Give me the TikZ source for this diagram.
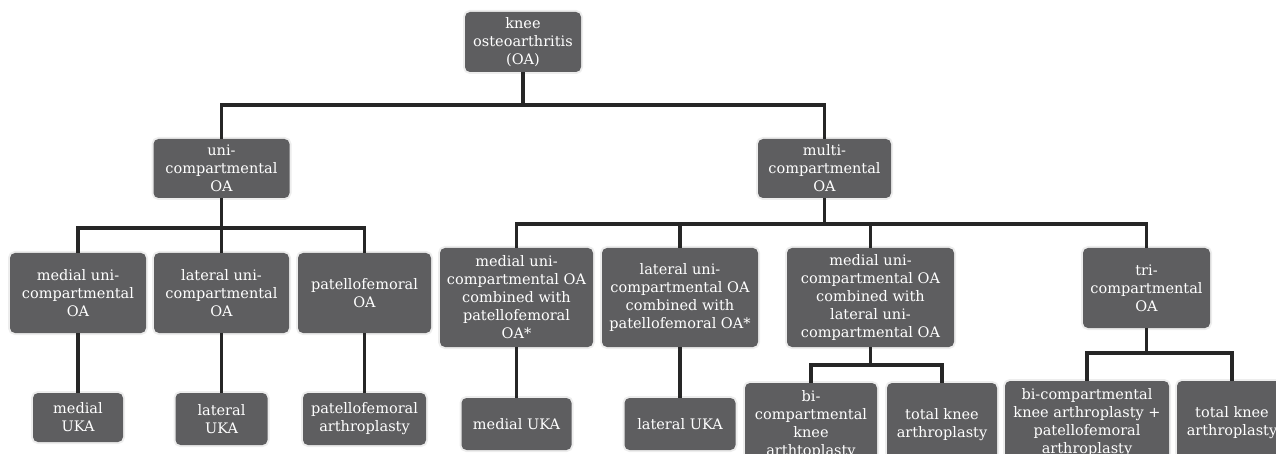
\documentclass[tikz,border=0pt]{standalone}
\usepackage{fontspec}
\setmainfont{DejaVu Serif}
\definecolor{boxgray}{HTML}{5E5E60}
\definecolor{linegray}{HTML}{262626}

\begin{document}
\begin{tikzpicture}[x=1pt, y=-1pt,
	box/.style={rounded corners=5pt, fill=boxgray, text=white, align=center, inner sep=0pt,
		font=\fontsize{14.5}{18}\selectfont, preaction={draw=black!7, line width=4pt}},
	link/.style={draw=linegray, line width=3.5pt}]
	\useasboundingbox (0,0) rectangle (1276,454);

	% top levels
	\node [box, minimum width=116pt, minimum height=60pt] (oa) at (523,42) {knee\\osteoarthritis\\(OA)};
	\node [box, minimum width=136pt, minimum height=59pt] (uni) at (221.5,168.5) {uni-\\compartmental\\OA};
	\node [box, minimum width=133pt, minimum height=59pt] (multi) at (824.5,168.5) {multi-\\compartmental\\OA};

	% uni-compartmental branch
	\node [box, minimum width=136pt, minimum height=80pt] (u1) at (78,293) {medial uni-\\compartmental\\OA};
	\node [box, minimum width=135pt, minimum height=80pt] (u2) at (221.5,293) {lateral uni-\\compartmental\\OA};
	\node [box, minimum width=133pt, minimum height=80pt] (u3) at (364.5,293) {patellofemoral\\OA};
	\node [box, minimum width=90pt, minimum height=49pt] (u1t) at (78,417.5) {medial\\UKA};
	\node [box, minimum width=92pt, minimum height=52pt] (u2t) at (221.5,419) {lateral\\UKA};
	\node [box, minimum width=123pt, minimum height=52pt] (u3t) at (364.5,419) {patellofemoral\\arthroplasty};

	% multi-compartmental branch
	\node [box, minimum width=153pt, minimum height=99pt] (m1) at (516.5,297.5) {medial uni-\\compartmental OA\\combined with\\patellofemoral\\OA*};
	\node [box, minimum width=156pt, minimum height=99pt] (m2) at (680,297.5) {lateral uni-\\compartmental OA\\combined with\\patellofemoral OA*};
	\node [box, minimum width=167pt, minimum height=99pt] (m3) at (870.5,297.5) {medial uni-\\compartmental OA\\combined with\\lateral uni-\\compartmental OA};
	\node [box, minimum width=127pt, minimum height=80pt] (m4) at (1146.5,288) {tri-\\compartmental\\OA};
	\node [box, minimum width=110pt, minimum height=52pt] (m1t) at (516.5,424) {medial UKA};
	\node [box, minimum width=111pt, minimum height=52pt] (m2t) at (680,424) {lateral UKA};
	\node [box, minimum width=132pt, minimum height=84pt] (m3a) at (811,425) {bi-\\compartmental\\knee\\arthtoplasty};
	\node [box, minimum width=110pt, minimum height=84pt] (m3b) at (942,425) {total knee\\arthroplasty};
	\node [box, minimum width=164pt, minimum height=84pt] (m4a) at (1087,423) {bi-compartmental\\knee arthroplasty +\\patellofemoral\\arthroplasty};
	\node [box, minimum width=110pt, minimum height=84pt] (m4b) at (1232,423) {total knee\\arthroplasty};

	% junctions
	\path (oa.south) ++(0,33) coordinate (oaj);
	\path (uni.south) ++(0,30) coordinate (unij);
	\path (multi.south) ++(0,26) coordinate (multij);
	\path (m3.south) ++(0,18) coordinate (m3j);
	\path (m4.south) ++(0,25) coordinate (m4j);

	\draw [link] (oa.south) -- (oaj);
	\foreach \c in {uni,multi} \draw [link] (oaj) -| (\c.north);
	\draw [link] (uni.south) -- (unij);
	\foreach \c in {u1,u2,u3} \draw [link] (unij) -| (\c.north);
	\draw [link] (multi.south) -- (multij);
	\foreach \c in {m1,m2,m3,m4} \draw [link] (multij) -| (\c.north);
	\draw [link] (m3.south) -- (m3j);
	\foreach \c in {m3a,m3b} \draw [link] (m3j) -| (\c.north);
	\draw [link] (m4.south) -- (m4j);
	\foreach \c in {m4a,m4b} \draw [link] (m4j) -| (\c.north);

	\foreach \c in {u1,u2,u3,m1,m2} \draw [link] (\c.south) -- (\c t.north);
\end{tikzpicture}
\end{document}
